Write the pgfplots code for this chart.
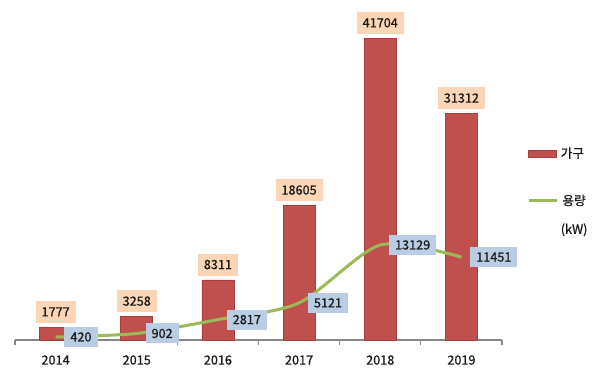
\documentclass[border=0pt]{standalone}
\usepackage{fontspec}
\setmainfont{Noto Sans CJK KR}[FakeBold=0.8]
\usepackage{pgfplots}
\pgfplotsset{compat=1.18}
\definecolor{barred}{HTML}{C0504D}
\definecolor{bardark}{HTML}{A33F3C}
\definecolor{linegreen}{HTML}{9BBB59}
\definecolor{peach}{HTML}{FBD5B5}
\definecolor{lblue}{HTML}{B9CDE5}
\definecolor{axgray}{HTML}{868686}
\definecolor{txt}{HTML}{1A1A1A}
\begin{document}
\begin{tikzpicture}
\path[use as bounding box] (0,0) rectangle (450pt,282pt);
\begin{axis}[
  at={(11.25pt,27pt)}, anchor=south west,
  scale only axis, width=365.25pt, height=244.35pt,
  xmin=-0.5, xmax=5.5, ymin=0, ymax=45000,
  axis x line*=bottom, axis y line=none,
  x axis line style={axgray, line width=0.8pt, -},
  xtick={0,1,2,3,4,5},
  xticklabels={2014,2015,2016,2017,2018,2019},
  major tick length=0pt,
  minor xtick={-0.5,0.5,1.5,2.5,3.5,4.5,5.5},
  minor tick length=4pt, tick align=outside,
  minor tick style={axgray, line width=0.8pt},
  ytick=\empty,
  clip=false,
  font=\fontsize{9.5}{11.4}\selectfont,
  xticklabel style={font=\fontsize{9.5}{11.4}\selectfont, yshift=-8pt, text=txt},
  legend cell align=left,
  legend style={draw=none, fill=none, at={(axis description cs:1.051,0.60)}, anchor=north west,
    inner sep=0pt, row sep=22pt, font=\fontsize{9.5}{11.4}\selectfont, text=txt},
]
\addplot[ybar, bar width=24pt, fill=barred, draw=bardark, line width=0.4pt,
  point meta=explicit symbolic,
  nodes near coords,
  every node near coord/.style={anchor=south, yshift=3pt, fill=peach, inner xsep=4.5pt, inner ysep=0pt,
     minimum height=16.5pt, font=\fontsize{9.5}{11.4}\selectfont, text=txt},
  legend image code/.code={\filldraw[fill=barred,draw=bardark] (0pt,-2.6pt) rectangle (21pt,2.6pt);}
] coordinates {(0,1777) [1777] (1,3258) [3258] (2,8311) [8311] (3,18605) [18605] (4,41704) [41704] (5,31312) [31312]};
\addlegendentry{가구}
\addplot[linegreen, line width=2.25pt, smooth, tension=0.45, mark=none,
  point meta=explicit symbolic,
  nodes near coords,
  every node near coord/.style={anchor=west, xshift=5.5pt, fill=lblue, inner xsep=4.5pt, inner ysep=0pt,
     minimum height=15pt, font=\fontsize{9.5}{11.4}\selectfont, text=txt},
  legend image code/.code={\draw[linegreen, line width=2.25pt] (0pt,0pt) -- (21pt,0pt);}
] coordinates {(0,420) [420] (1,902) [902] (2,2817) [2817] (3,5121) [5121] (4,13129) [13129] (5,11451) [11451]};
\addlegendentry{\begin{tabular}[t]{@{}c@{}}용량\\[10pt](kW)\end{tabular}}
\end{axis}
\end{tikzpicture}
\end{document}
